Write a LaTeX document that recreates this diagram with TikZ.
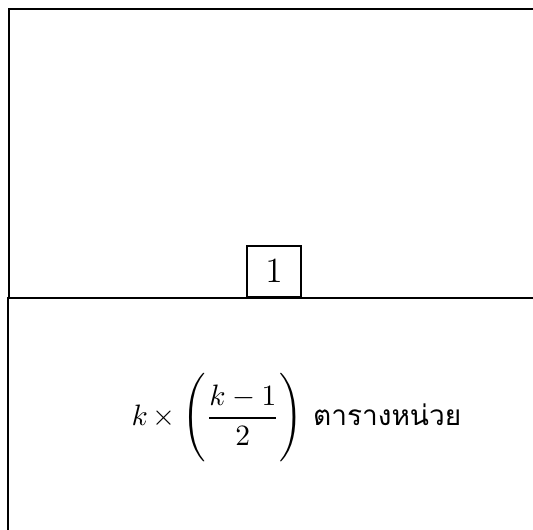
\documentclass[tikz,border=0pt]{standalone}
\usepackage{amsmath}
\usepackage{fontspec}
\newfontfamily\thaifont[Script=Thai,Scale=0.95]{Loma}

\begin{document}
\begin{tikzpicture}[x=0.339pt,y=-0.339pt]

\tikzset{
  region line/.style={
    line width=0.68pt,
  },
  unit box/.style={
    draw,
    line width=0.68pt,
    minimum width=18.3pt,
    minimum height=17.3pt,
    inner sep=0pt,
    font=\large,
  }
}

\useasboundingbox (0,0) rectangle (533,529);
\clip (0,0) rectangle (533,529);

% Upper region
\coordinate (upper nw) at (9,9);
\coordinate (upper se) at (560,298);
\draw[region line] (upper nw) rectangle (upper se);

% Lower region
\coordinate (lower nw) at (8,298);
\coordinate (lower se) at (560,560);
\draw[region line] (lower nw) rectangle (lower se);

% Unit square on the dividing line
\node[unit box, anchor=south] (unit) at (274,298) {$1$};

% Area label
\node[anchor=base] (area) at (296.5,425.4)
  {$k\mkern3mu{\times}\mkern4mu\Biggl(\dfrac{k-1}{2}\Biggr)$ {\thaifont ตารางหน่วย}};

\end{tikzpicture}
\end{document}
